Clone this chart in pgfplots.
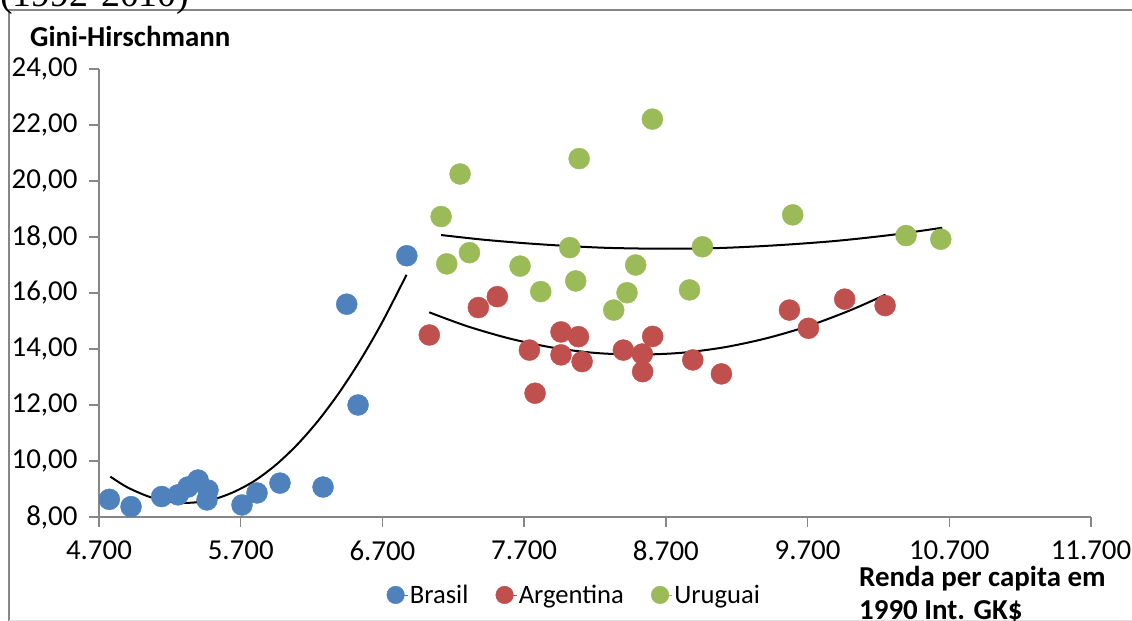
\documentclass[border=0pt]{standalone}
\usepackage{pgfplots}
\pgfplotsset{compat=1.18}
\usepackage{fontspec}
\setmainfont{Carlito}
\newfontfamily\serifT{Liberation Serif}
\definecolor{cBlue}{HTML}{4F81BD}
\definecolor{cRed}{HTML}{C0504D}
\definecolor{cGreen}{HTML}{9BBB59}
\definecolor{axgray}{HTML}{868686}
\begin{document}
\begin{tikzpicture}[x=1bp,y=1bp]
\useasboundingbox (0,0) rectangle (1132,621);
\fill[white] (0,0) rectangle (1132,621);
\draw[axgray, line width=1.5bp] (9,0) -- (9,611) -- (1132,611);
\draw[black!12, line width=1bp] (9,0.5) -- (1132,0.5);
\node[anchor=base west, inner sep=0, font=\serifT\fontsize{38}{40}\selectfont] at (0,614) {(1992-2010)};
\node[anchor=base west, inner sep=0, font=\bfseries\fontsize{29}{32}\selectfont] at (30,574) {Gini-Hirschmann};
\node[anchor=base west, inner sep=0, font=\bfseries\fontsize{29}{32}\selectfont] at (859,34) {Renda per capita em};
\node[anchor=base west, inner sep=0, font=\bfseries\fontsize{29}{32}\selectfont] at (859,1) {1990 Int. GK\$};
\begin{axis}[
  at={(99bp,104bp)}, anchor=south west,
  scale only axis, width=992bp, height=448bp,
  xmin=4700, xmax=11700, ymin=8, ymax=24,
  axis lines*=left,
  axis line style={axgray, line width=1.5bp},
  tick style={axgray, line width=1.5bp},
  major tick length=10bp,
  tick align=outside,
  scaled x ticks=false, scaled y ticks=false,
  xtick={4700,5700,6700,7700,8700,9700,10700,11700},
  xticklabels={4.700,5.700,6.700,7.700,8.700,9.700,10.700,11.700},
  ytick={8,10,12,14,16,18,20,22,24},
  yticklabels={{8,00},{10,00},{12,00},{14,00},{16,00},{18,00},{20,00},{22,00},{24,00}},
  tick label style={font=\fontsize{29}{32}\selectfont, black},
  xticklabel style={yshift=-10bp},
  yticklabel style={xshift=-8bp},
  clip=false,
  legend columns=3,
  legend style={at={(0.479,-0.174)}, anchor=center, draw=none, fill=none,
    font=\fontsize{26.7}{30}\selectfont,
    /tikz/every even column/.append style={column sep=25bp}},
  legend image code/.code={\path (0bp,0bp) -- (21bp,0bp); \draw[#1] plot coordinates {(9bp,0bp)};},
]
% Brasil
\addplot[only marks, mark=*, mark size=10.5bp, color=cBlue, mark options={draw=none, fill=cBlue}, forget plot] coordinates {
(4773,8.63) (4926,8.37) (5142,8.73) (5258,8.79) (5328,9.07) (5399,9.32) (5469,8.96) (5462,8.61)
(5709,8.43) (5815,8.86) (5977,9.21) (6281,9.07) (6528,12.00) (6448,15.60) (6872,17.33)
};
% Argentina
\addplot[only marks, mark=*, mark size=10.5bp, color=cRed, mark options={draw=none, fill=cRed}, forget plot] coordinates {
(7031,14.50) (7377,15.48) (7511,15.87) (7737,13.96) (7777,12.42) (7960,14.61) (7960,13.79)
(8083,14.44) (8109,13.55) (8400,13.96) (8534,13.82) (8536,13.19) (8607,14.45) (8890,13.61)
(9092,13.11) (9572,15.39) (9706,14.74) (9962,15.78) (10247,15.55)
};
% Uruguai
\addplot[only marks, mark=*, mark size=10.5bp, color=cGreen, mark options={draw=none, fill=cGreen}, forget plot] coordinates {
(7248,20.25) (7114,18.73) (8088,20.80) (8605,22.21) (7154,17.04) (7314,17.44) (7671,16.96)
(8022,17.62) (8487,17.00) (8958,17.65) (7817,16.05) (8064,16.43) (8426,16.01) (8867,16.11)
(8332,15.39) (9595,18.79) (10395,18.05) (10640,17.92)
};
% trend lines
\addplot[black, line width=2bp, smooth, forget plot] coordinates {
(4780,9.44) (4900,9.06) (5050,8.73) (5200,8.54) (5350,8.51) (5500,8.62) (5650,8.89) (5800,9.30)
(5950,9.87) (6100,10.59) (6250,11.46) (6400,12.48) (6550,13.65) (6700,14.97) (6870,16.65)
};
\addplot[black, line width=2bp, smooth, forget plot] coordinates {
(7030,15.31) (7300,14.81) (7600,14.37) (7900,14.05) (8200,13.86) (8500,13.80) (8800,13.86)
(9100,14.05) (9400,14.37) (9700,14.81) (10000,15.38) (10250,15.94)
};
\addplot[black, line width=2bp, smooth, forget plot] coordinates {
(7114,18.07) (7400,17.91) (7700,17.78) (8000,17.68) (8300,17.61) (8700,17.58) (9100,17.61)
(9500,17.71) (9900,17.86) (10300,18.08) (10650,18.33)
};
\addlegendimage{only marks, mark=*, mark size=8.8bp, color=cBlue, mark options={draw=none, fill=cBlue}}
\addlegendentry{Brasil}
\addlegendimage{only marks, mark=*, mark size=8.8bp, color=cRed, mark options={draw=none, fill=cRed}}
\addlegendentry{Argentina}
\addlegendimage{only marks, mark=*, mark size=8.8bp, color=cGreen, mark options={draw=none, fill=cGreen}}
\addlegendentry{Uruguai}
\end{axis}
\end{tikzpicture}
\end{document}
